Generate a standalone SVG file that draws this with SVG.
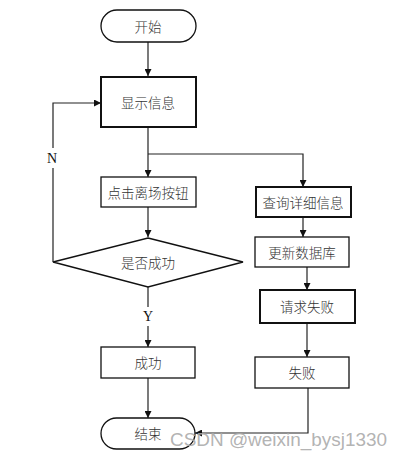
<svg xmlns="http://www.w3.org/2000/svg" width="402" height="456" viewBox="0 0 402 456">
<style>
.n{fill:#fff;stroke:#111;stroke-width:1.3}
.t{stroke-width:2}
.l{font-family:"Noto Sans CJK SC","Liberation Serif",serif;font-size:13.5px;font-weight:300;fill:#333;text-anchor:middle;dominant-baseline:central}
.e{fill:none;stroke:#222;stroke-width:1.2}
.lab{font-family:"Liberation Serif",serif;font-size:14px;fill:#111;text-anchor:middle;dominant-baseline:central}
</style>
<defs>
<marker id="a" viewBox="0 0 10 10" refX="10" refY="5" markerWidth="7" markerHeight="7" markerUnits="userSpaceOnUse" orient="auto">
<path d="M0,0L10,5L0,10z" fill="#111"/>
</marker>
</defs>
<rect width="402" height="456" fill="#fff"/>
<g id="edges">
<path class="e" d="M148,42V76" marker-end="url(#a)"/>
<path class="e" d="M148,127V177" marker-end="url(#a)"/>
<path class="e" d="M148,154H303V187" marker-end="url(#a)"/>
<path class="e" d="M148,207V237" marker-end="url(#a)"/>
<path class="e" d="M53,262V168M53,148V103H101" marker-end="url(#a)"/>
<path class="e" d="M148,287V307M148,326V347" marker-end="url(#a)"/>
<path class="e" d="M148,378V418" marker-end="url(#a)"/>
<path class="e" d="M303,217V237" marker-end="url(#a)"/>
<path class="e" d="M307,267V290" marker-end="url(#a)"/>
<path class="e" d="M307,323V357" marker-end="url(#a)"/>
<path class="e" d="M308,388V433H195" marker-end="url(#a)"/>
<text class="lab" x="52" y="158">N</text>
<text class="lab" x="148" y="316">Y</text>
</g>
<g id="start"><rect class="n" x="101" y="10" width="95" height="32" rx="16"/><text class="l" x="148" y="26">开始</text></g>
<g id="show"><rect class="n t" x="101" y="77" width="95" height="50"/><text class="l" x="148" y="102">显示信息</text></g>
<g id="click"><rect class="n" x="101" y="177" width="95" height="30"/><text class="l" x="148" y="192">点击离场按钮</text></g>
<g id="decision"><path class="n" d="M148,238L243,262L148,287L53,262Z"/><text class="l" x="148" y="262">是否成功</text></g>
<g id="success"><rect class="n" x="101" y="347" width="94" height="31"/><text class="l" x="148" y="362">成功</text></g>
<g id="end"><rect class="n" x="101" y="418" width="94" height="31" rx="15.5"/><text class="l" x="148" y="433">结束</text></g>
<g id="query"><rect class="n t" x="256" y="187" width="95" height="30"/><text class="l" x="303" y="202">查询详细信息</text></g>
<g id="update"><rect class="n" x="255" y="237" width="94" height="30"/><text class="l" x="302" y="252">更新数据库</text></g>
<g id="reqfail"><rect class="n t" x="260" y="290" width="95" height="33"/><text class="l" x="307" y="306">请求失败</text></g>
<g id="fail"><rect class="n" x="255" y="357" width="94" height="31"/><text class="l" x="302" y="372">失败</text></g>
<text x="170" y="446" font-family="Liberation Sans,sans-serif" font-size="18" fill="#aaa" fill-opacity="0.9" textLength="217" lengthAdjust="spacingAndGlyphs">CSDN @weixin_bysj1330</text>
</svg>
